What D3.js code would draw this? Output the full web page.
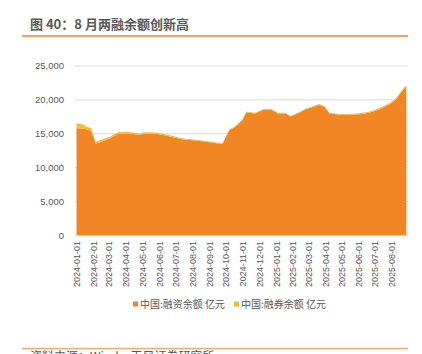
<!DOCTYPE html>
<html>
<head>
<meta charset="utf-8">
<script src="https://cdn.jsdelivr.net/npm/d3@7"></script>
<style>
  body { margin: 0; background: #fff; }
  svg { display: block; font-family: "Liberation Sans", "Noto Sans CJK SC", sans-serif; }
  .tick text { fill: #595959; }
</style>
</head>
<body>
<svg width="422" height="354"></svg>
<script>
// data (亿元)
const dates = ['2024-01-02','2024-01-12','2024-01-21','2024-01-29','2024-02-06','2024-02-19','2024-03-03',
  '2024-03-18','2024-04-03','2024-04-25','2024-05-08','2024-05-26','2024-06-13','2024-07-13','2024-08-13',
  '2024-09-18','2024-09-25','2024-10-08','2024-10-17','2024-10-31','2024-11-08','2024-11-24','2024-12-09',
  '2024-12-24','2025-01-05','2025-01-19','2025-01-28','2025-02-10','2025-02-26','2025-03-07','2025-03-21',
  '2025-03-31','2025-04-09','2025-04-28','2025-05-16','2025-06-03','2025-06-21','2025-07-09','2025-07-28',
  '2025-08-09','2025-08-20','2025-08-28'];
const financing = [15740,15700,15550,15350,13450,13820,14230,14890,15000,14780,14940,14920,14690,14120,13890,
  13510,13410,15480,15860,16850,18080,17930,18470,18470,17930,17930,17490,17920,18580,18810,19190,
  18900,17910,17720,17720,17810,18040,18520,19250,19980,21200,21920];
const lending = [730,660,420,390,310,290,270,250,240,220,200,180,160,140,120,110,110,110,110,110,110,110,110,
  110,110,110,110,120,120,120,130,130,130,130,130,140,150,160,170,180,190,200];
const yTicks = [0, 5000, 10000, 15000, 20000, 25000];
const seriesNames = ['中国:融资余额 亿元', '中国:融券余额 亿元'];
const colors = ['#F28524', '#F8BA2C'];

const svg = d3.select('svg');
const parse = d3.timeParse('%Y-%m-%d');

const data = dates.map((d, i) => ({date: parse(d), fin: financing[i], lend: lending[i]}));

const xScale = d3.scaleTime()
  .domain([parse('2024-01-01'), parse('2025-08-31')])
  .range([76, 408]);

const yScale = d3.scaleLinear()
  .domain([0, 25000])
  .range([235, 65.5]);

// header
svg.append('text')
  .attr('x', 30).attr('y', 29)
  .attr('font-family', '"Noto Sans CJK SC", sans-serif')
  .attr('font-size', 13).attr('font-weight', 'bold')
  .attr('fill', '#595959')
  .text('图 40：8 月两融余额创新高');

svg.append('line')
  .attr('x1', 22).attr('x2', 408).attr('y1', 36).attr('y2', 36)
  .attr('stroke', '#F28524').attr('stroke-width', 1.5);

// gridlines + y axis
const yAxis = d3.axisLeft(yScale)
  .tickValues(yTicks)
  .tickFormat(d3.format(','))
  .tickSize(-(408 - 75))
  .tickPadding(11);

const yAxisG = svg.append('g')
  .attr('transform', 'translate(75,0)')
  .call(yAxis);
yAxisG.select('.domain').remove();
yAxisG.selectAll('.tick line').attr('stroke', '#d9d9d9');
yAxisG.selectAll('.tick text').attr('font-size', 9.5);

// stacked area
const stack = d3.stack().keys(['fin', 'lend']);
const layers = stack(data);

const area = d3.area()
  .x(d => xScale(d.data.date))
  .y0(d => yScale(d[0]))
  .y1(d => yScale(d[1]));

svg.selectAll('.layer').data(layers)
  .enter().append('path')
    .attr('class', 'layer')
    .attr('d', area)
    .attr('fill', (d, i) => colors[i]);

// x axis, monthly ticks, rotated
const xTicks = d3.timeMonth.range(parse('2024-01-01'), parse('2025-08-02'));
const xAxis = d3.axisBottom(xScale)
  .tickValues(xTicks)
  .tickFormat(d3.timeFormat('%Y-%m-%d'))
  .tickSize(0)
  .tickPadding(0);

const xAxisG = svg.append('g')
  .attr('transform', 'translate(0,235)')
  .call(xAxis);
xAxisG.select('.domain').remove();
xAxisG.selectAll('.tick text')
  .attr('font-size', 9)
  .attr('transform', 'rotate(-90)')
  .attr('text-anchor', 'end')
  .attr('x', -6)
  .attr('y', 0)
  .attr('dy', '0.35em');

// legend
const legendX = [133, 234];
const legend = svg.selectAll('.legend').data(seriesNames)
  .enter().append('g')
    .attr('class', 'legend')
    .attr('transform', (d, i) => `translate(${legendX[i]},300)`);
legend.append('rect')
  .attr('width', 5).attr('height', 5).attr('y', 1.5)
  .attr('fill', (d, i) => colors[i]);
legend.append('text')
  .attr('x', 7).attr('y', 8)
  .attr('font-family', '"Noto Sans CJK SC", sans-serif')
  .attr('font-size', 10)
  .attr('fill', '#595959')
  .text(d => d);

// footer
svg.append('line')
  .attr('x1', 22).attr('x2', 408).attr('y1', 348.5).attr('y2', 348.5)
  .attr('stroke', '#F5AA6E').attr('stroke-width', 1.5);

svg.append('text')
  .attr('x', 30).attr('y', 361)
  .attr('font-family', '"Noto Sans CJK SC", sans-serif')
  .attr('font-size', 12)
  .attr('fill', '#595959')
  .text('资料来源：Wind，天风证券研究所');
</script>
</body>
</html>
